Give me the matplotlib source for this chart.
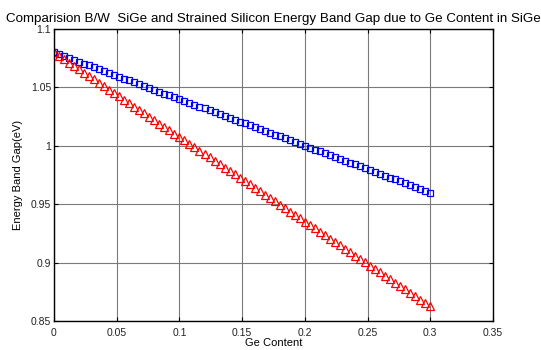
import matplotlib
matplotlib.use("Agg")
from matplotlib import pyplot as plt

plt.rcParams['font.family'] = ['Liberation Sans', 'DejaVu Sans']

ge_content = [0, .004, .008, .012, .016, .02, .024, .028, .032, .036,
              .04, .044, .048, .052, .056, .06, .064, .068, .072, .076,
              .08, .084, .088, .092, .096, .1, .104, .108, .112, .116,
              .12, .124, .128, .132, .136, .14, .144, .148, .152, .156,
              .16, .164, .168, .172, .176, .18, .184, .188, .192, .196,
              .2, .204, .208, .212, .216, .22, .224, .228, .232, .236,
              .24, .244, .248, .252, .256, .26, .264, .268, .272, .276,
              .28, .284, .288, .292, .296, .3]

# SiGe band gap (blue squares)
eg_sige = [1.0800, 1.0784, 1.0768, 1.0752, 1.0736, 1.0720, 1.0704, 1.0688, 1.0672, 1.0656,
           1.0640, 1.0624, 1.0608, 1.0592, 1.0576, 1.0560, 1.0544, 1.0528, 1.0512, 1.0496,
           1.0480, 1.0464, 1.0448, 1.0432, 1.0416, 1.0400, 1.0384, 1.0368, 1.0352, 1.0336,
           1.0320, 1.0304, 1.0288, 1.0272, 1.0256, 1.0240, 1.0224, 1.0208, 1.0192, 1.0176,
           1.0160, 1.0144, 1.0128, 1.0112, 1.0096, 1.0080, 1.0064, 1.0048, 1.0032, 1.0016,
           1.0000, 0.9984, 0.9968, 0.9952, 0.9936, 0.9920, 0.9904, 0.9888, 0.9872, 0.9856,
           0.9840, 0.9824, 0.9808, 0.9792, 0.9776, 0.9760, 0.9744, 0.9728, 0.9712, 0.9696,
           0.9680, 0.9664, 0.9648, 0.9632, 0.9616, 0.9600]

# strained silicon band gap (red triangles)
eg_strained = [1.0800, 1.0771, 1.0742, 1.0713, 1.0684, 1.0655, 1.0626, 1.0597, 1.0568, 1.0539,
               1.0510, 1.0481, 1.0452, 1.0423, 1.0394, 1.0365, 1.0336, 1.0307, 1.0278, 1.0249,
               1.0220, 1.0191, 1.0162, 1.0133, 1.0104, 1.0075, 1.0046, 1.0017, 0.9988, 0.9959,
               0.9930, 0.9901, 0.9872, 0.9843, 0.9814, 0.9785, 0.9756, 0.9727, 0.9698, 0.9669,
               0.9640, 0.9611, 0.9582, 0.9553, 0.9524, 0.9495, 0.9466, 0.9437, 0.9408, 0.9379,
               0.9350, 0.9321, 0.9292, 0.9263, 0.9234, 0.9205, 0.9176, 0.9147, 0.9118, 0.9089,
               0.9060, 0.9031, 0.9002, 0.8973, 0.8944, 0.8915, 0.8886, 0.8857, 0.8828, 0.8799,
               0.8770, 0.8741, 0.8712, 0.8683, 0.8654, 0.8625]

x_ticks = [0, 0.05, 0.1, 0.15, 0.2, 0.25, 0.3, 0.35]
x_labels = ['0', '0.05', '0.1', '0.15', '0.2', '0.25', '0.3', '0.35']
y_ticks = [0.85, 0.9, 0.95, 1.0, 1.05, 1.1]
y_labels = ['0.85', '0.9', '0.95', '1', '1.05', '1.1']

fig = plt.figure(figsize=(5.41, 3.5), dpi=100)
ax = fig.add_axes([0.0998, 0.083, 0.8115, 0.834])

ax.plot(ge_content, eg_sige, linestyle='none', marker='s', markersize=4.6,
        markerfacecolor='none', markeredgecolor='#0000ff', markeredgewidth=0.9)
ax.plot(ge_content, eg_strained, linestyle='none', marker='^', markersize=5.4,
        markerfacecolor='none', markeredgecolor='#ff0000', markeredgewidth=0.9)

ax.set_xlim(0, 0.35)
ax.set_ylim(0.85, 1.1)
ax.set_xticks(x_ticks)
ax.set_xticklabels(x_labels)
ax.set_yticks(y_ticks)
ax.set_yticklabels(y_labels)
ax.grid(True, color='#7a7a7a', linewidth=0.8, linestyle='-')
ax.set_axisbelow(True)
ax.tick_params(direction='in', length=3, labelsize=7.5, top=True, right=True,
               colors='black', labelcolor='#222222')
ax.tick_params(axis='x', pad=5)
ax.tick_params(axis='y', pad=2)
for s in ax.spines.values():
    s.set_linewidth(1.0)

ax.set_title('Comparision B/W  SiGe and Strained Silicon Energy Band Gap due to Ge Content in SiGe',
             fontsize=9.6, pad=5)
ax.set_xlabel('Ge Content', fontsize=8, labelpad=0)
ax.set_ylabel('Energy Band Gap(eV)', fontsize=8, labelpad=6)

fig.savefig('out.png', dpi=100)
